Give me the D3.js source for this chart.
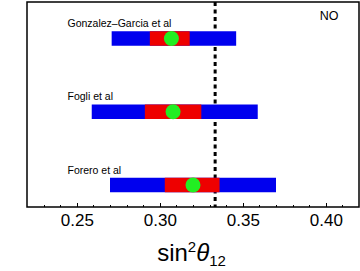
<!DOCTYPE html>
<html lang="en">
<head>
<meta charset="UTF-8">
<style>
    body { margin: 0; background: #fff; }
    text { font-family: Arial, "Liberation Sans", sans-serif; fill: #000; }
    .study text { font-size: 10.5px; }
    .xAxis text { font-size: 17px; }
    .xAxis path { display: none; }
    .xAxis line { stroke: #000; stroke-width: 1; shape-rendering: crispEdges; }
</style>
</head>
<body>
<div id="chart"></div>
<script src="https://cdn.jsdelivr.net/npm/d3@7"></script>
<script>
    // fit results for sin^2 theta12
    var studies = ["Gonzalez\u2013Garcia et al", "Fogli et al", "Forero et al"];
    var range3s = [[0.271, 0.346], [0.259, 0.359], [0.270, 0.370]];
    var range1s = [[0.294, 0.318], [0.291, 0.325], [0.303, 0.336]];
    var bestFit = [0.307, 0.308, 0.320];
    var tbmValue = 1 / 3;
    var majorTicks = [0.25, 0.30, 0.35, 0.40];
    var minorTicks = [0.23, 0.24, 0.26, 0.27, 0.28, 0.29, 0.31, 0.32, 0.33, 0.34, 0.36, 0.37, 0.38, 0.39, 0.41];

    var width = 360, height = 271;
    var box = { left: 27, right: 359, top: 2, bottom: 207 };

    var svg = d3.select("#chart").append("svg")
        .attr("width", width)
        .attr("height", height);

    var x = d3.scaleLinear()
        .domain([0.22, 0.42])
        .range([box.left, box.right]);

    var y = d3.scalePoint()
        .domain(studies)
        .range([38.5, 185]);

    var barH = 14.5;

    // dotted line at tri-bimaximal value (behind the bars)
    svg.append("line")
        .attr("x1", x(tbmValue))
        .attr("x2", x(tbmValue))
        .attr("y1", box.top)
        .attr("y2", box.bottom)
        .attr("stroke", "#000")
        .attr("stroke-width", 3)
        .attr("stroke-dasharray", "4,3.5");

    var rows = studies.map(function (s, i) {
        return { name: s, wide: range3s[i], narrow: range1s[i], best: bestFit[i] };
    });

    var g = svg.selectAll(".study")
        .data(rows)
        .enter().append("g")
        .attr("class", "study");

    g.append("rect")
        .attr("x", function (d) { return x(d.wide[0]); })
        .attr("y", function (d) { return y(d.name) - barH / 2; })
        .attr("width", function (d) { return x(d.wide[1]) - x(d.wide[0]); })
        .attr("height", barH)
        .attr("fill", "#0000ee");

    g.append("rect")
        .attr("x", function (d) { return x(d.narrow[0]); })
        .attr("y", function (d) { return y(d.name) - barH / 2; })
        .attr("width", function (d) { return x(d.narrow[1]) - x(d.narrow[0]); })
        .attr("height", barH)
        .attr("fill", "#ee0000");

    g.append("circle")
        .attr("cx", function (d) { return x(d.best); })
        .attr("cy", function (d) { return y(d.name); })
        .attr("r", 7.5)
        .attr("fill", "#22ee22");

    g.append("text")
        .attr("x", 67.5)
        .attr("y", function (d) { return y(d.name) - 11.5; })
        .text(function (d) { return d.name; });

    // frame
    svg.append("rect")
        .attr("x", box.left)
        .attr("y", box.top)
        .attr("width", box.right - box.left)
        .attr("height", box.bottom - box.top)
        .attr("fill", "none")
        .attr("stroke", "#000")
        .attr("stroke-width", 1.5);

    // minor ticks (inward)
    svg.append("g")
        .attr("class", "xAxis")
        .attr("transform", "translate(0," + box.bottom + ")")
        .call(d3.axisTop(x).tickValues(minorTicks).tickSize(2.5).tickFormat(""));

    // major ticks with labels below
    var major = svg.append("g")
        .attr("class", "xAxis")
        .attr("transform", "translate(0," + box.bottom + ")")
        .call(d3.axisTop(x).tickValues(majorTicks).tickSize(4.5).tickFormat(d3.format(".2f")));

    major.selectAll("text")
        .attr("y", 19)
        .attr("dy", 0);

    svg.append("text")
        .attr("x", 329)
        .attr("y", 20)
        .attr("text-anchor", "middle")
        .style("font-size", "12.5px")
        .text("NO");

    // axis title sin^2 theta_12
    var title = svg.append("text")
        .attr("x", 191.5)
        .attr("y", 261)
        .attr("text-anchor", "middle")
        .style("font-size", "24px");
    title.append("tspan").text("sin");
    title.append("tspan").attr("dy", -9).style("font-size", "15px").text("2");
    title.append("tspan").attr("dy", 9).style("font-style", "italic").text("\u03b8");
    title.append("tspan").attr("dy", 5).style("font-size", "15px").text("12");
</script>
</body>
</html>
